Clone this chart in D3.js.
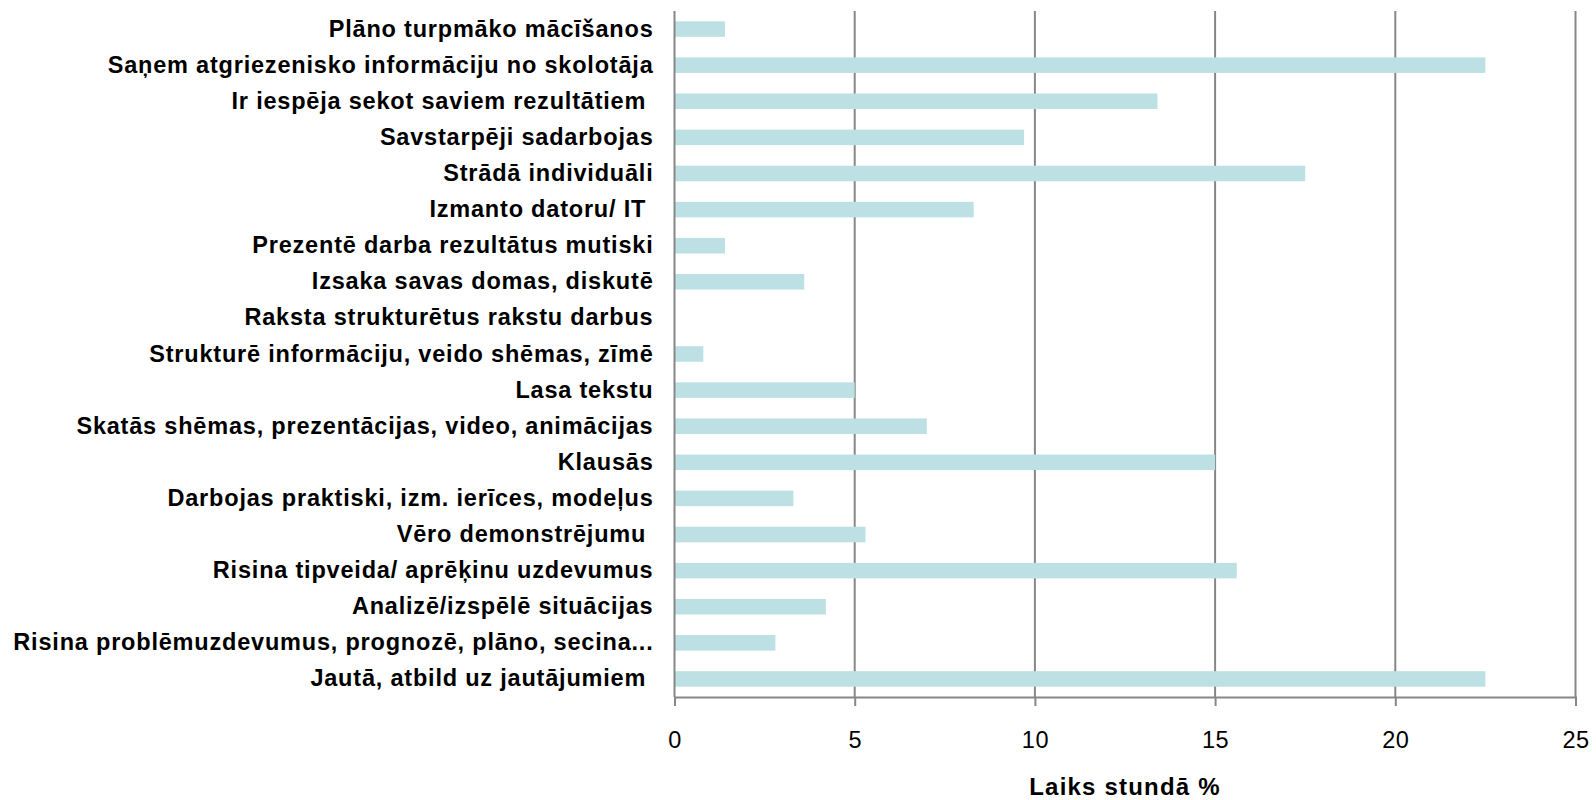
<!DOCTYPE html>
<html>
<head>
<meta charset="utf-8">
<script src="https://cdn.jsdelivr.net/npm/d3@7"></script>
<style>
  html, body { margin: 0; padding: 0; background: #fff; }
  svg text { font-family: "Liberation Sans", Arial, sans-serif; fill: #000; }
</style>
</head>
<body>
<svg id="chart" width="1596" height="800"></svg>
<script>
// Activity categories, top to bottom
const categories = [
  "Plāno turpmāko mācīšanos",
  "Saņem atgriezenisko informāciju no skolotāja",
  "Ir iespēja sekot saviem rezultātiem ",
  "Savstarpēji sadarbojas",
  "Strādā individuāli",
  "Izmanto datoru/ IT ",
  "Prezentē darba rezultātus mutiski",
  "Izsaka savas domas, diskutē",
  "Raksta strukturētus rakstu darbus",
  "Strukturē informāciju, veido shēmas, zīmē",
  "Lasa tekstu",
  "Skatās shēmas, prezentācijas, video, animācijas",
  "Klausās",
  "Darbojas praktiski, izm. ierīces, modeļus",
  "Vēro demonstrējumu ",
  "Risina tipveida/ aprēķinu uzdevumus",
  "Analizē/izspēlē situācijas",
  "Risina problēmuzdevumus, prognozē, plāno, secina...",
  "Jautā, atbild uz jautājumiem "
];

// Share of lesson time, %
const timeShare = [1.4, 22.5, 13.4, 9.7, 17.5, 8.3, 1.4, 3.6, 0, 0.8, 5.0, 7.0, 15.0, 3.3, 5.3, 15.6, 4.2, 2.8, 22.5];

const xTicks = [0, 5, 10, 15, 20, 25];
const xTitle = "Laiks stundā %";

const data = categories.map((c, i) => ({ cat: c, v: timeShare[i] }));

const svg = d3.select("#chart");
const plotLeft = 674.5, plotRight = 1575.5, plotTop = 11, plotBottom = 697;

const x = d3.scaleLinear().domain([0, 25]).range([plotLeft, plotRight]);
const y = d3.scaleBand().domain(categories).range([plotTop, plotBottom])
  .paddingInner(0.57).paddingOuter(0.285);

const gridColor = "#878787";

// vertical gridlines
svg.append("g").selectAll("line").data(xTicks.filter(t => t > 0)).join("line")
  .attr("x1", d => x(d)).attr("x2", d => x(d))
  .attr("y1", plotTop).attr("y2", plotBottom)
  .attr("stroke", gridColor).attr("stroke-width", 2);

// bars
svg.append("g").selectAll("rect").data(data).join("rect")
  .attr("x", x(0))
  .attr("y", d => y(d.cat))
  .attr("width", d => x(d.v) - x(0))
  .attr("height", y.bandwidth())
  .attr("fill", "#bce0e3");

// value axis along the bottom
const xAxis = svg.append("g")
  .attr("transform", `translate(0,${plotBottom})`)
  .call(d3.axisBottom(x).tickValues(xTicks).tickSize(9).tickPadding(25).tickFormat(d3.format("d")));
xAxis.select(".domain").attr("stroke", gridColor).attr("stroke-width", 2);
xAxis.selectAll(".tick line").attr("stroke", gridColor).attr("stroke-width", 2);
xAxis.selectAll(".tick text")
  .style("font-family", '"Liberation Sans", Arial, sans-serif')
  .attr("font-size", 23.5).attr("letter-spacing", 0.5).attr("fill", "#000");

// category axis on the left
const yAxis = svg.append("g")
  .attr("transform", `translate(${x(0)},0)`)
  .call(d3.axisLeft(y).tickSize(0).tickPadding(21));
yAxis.select(".domain").attr("stroke", gridColor).attr("stroke-width", 2)
  .attr("d", `M0,${plotTop}V${plotBottom}`);
yAxis.selectAll(".tick text")
  .style("font-family", '"Liberation Sans", Arial, sans-serif')
  .style("white-space", "pre")
  .attr("font-size", 23.5).attr("font-weight", "bold")
  .attr("letter-spacing", 0.8).attr("fill", "#000");

// axis title
svg.append("text")
  .attr("x", (plotLeft + plotRight) / 2)
  .attr("y", 787)
  .attr("dy", "0.35em")
  .attr("text-anchor", "middle")
  .attr("font-size", 24).attr("font-weight", "bold")
  .attr("letter-spacing", 1.2)
  .text(xTitle);
</script>
</body>
</html>
